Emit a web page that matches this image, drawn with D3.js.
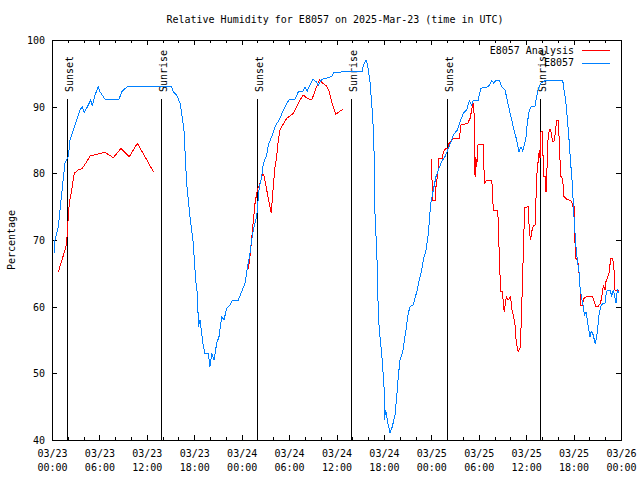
<!DOCTYPE html>
<html>
<head>
<meta charset="utf-8">
<script src="https://cdn.jsdelivr.net/npm/d3@7"></script>
<style>
  html, body { margin: 0; padding: 0; background: #fff; }
  svg { display: block; }
  text { font-family: "DejaVu Sans Mono", "Liberation Mono", monospace; font-size: 10px; fill: #000; }
</style>
</head>
<body>
<svg id="chart" width="640" height="480"></svg>
<script>
// ---- data (hours since 2025-03-23 00:00 UTC) ----
const chartTitle = "Relative Humidity for E8057 on 2025-Mar-23 (time in UTC)";
const yLabel = "Percentage";
const seriesNames = ["E8057 Analysis", "E8057"];

const xTickHours = [0, 6, 12, 18, 24, 30, 36, 42, 48, 54, 60, 66, 72];
const xTickDates = ["03/23","03/23","03/23","03/23","03/24","03/24","03/24","03/24","03/25","03/25","03/25","03/25","03/26"];
const xTickTimes = ["00:00","06:00","12:00","18:00","00:00","06:00","12:00","18:00","00:00","06:00","12:00","18:00","00:00"];
const yTicks = [40, 50, 60, 70, 80, 90, 100];

const sunHours = [1.94, 13.83, 25.98, 37.87, 50.02, 61.79];
const sunLabels = ["Sunset", "Sunrise", "Sunset", "Sunrise", "Sunset", "Sunrise"];

const obsHours = [0.25,0.38,0.80,1.23,1.64,2.06,2.28,2.70,3.13,3.54,3.83,4.09,4.59,4.90,5.10,5.44,5.86,6.07,6.71,7.55,8.48,8.82,9.53,11.77,15.15,15.35,15.78,16.20,16.41,16.70,17.04,17.46,17.88,18.01,18.22,18.44,18.51,18.73,18.94,19.15,19.36,19.78,19.99,20.21,20.50,20.84,21.13,21.47,21.76,22.11,22.52,22.87,23.57,24.00,24.42,24.71,25.05,25.27,25.47,25.90,26.23,26.54,26.74,27.17,27.37,27.80,28.22,28.85,29.27,29.61,30.03,30.75,31.17,31.72,32.01,32.30,32.99,33.41,33.70,34.13,35.39,35.68,37.07,39.23,39.39,39.73,39.94,40.24,40.58,40.74,40.87,41.08,41.19,41.29,41.50,41.72,41.84,42.01,42.05,42.23,42.35,42.55,42.77,43.06,43.40,43.62,43.82,44.03,44.38,44.54,44.79,45.08,45.30,45.72,45.93,46.22,46.48,46.78,46.98,47.33,47.62,47.92,48.25,48.59,48.88,49.31,49.73,50.15,50.58,50.78,51.29,51.63,52.05,52.48,52.81,53.11,53.31,53.94,54.25,55.21,55.64,55.93,56.18,56.60,56.91,57.32,57.61,57.87,58.17,58.46,58.80,59.09,59.35,59.56,59.76,59.98,60.14,60.40,60.70,61.12,61.33,61.53,61.84,62.51,64.62,64.79,65.00,65.26,65.46,65.63,65.84,65.96,66.05,66.18,66.30,66.47,66.68,66.81,67.03,67.23,67.36,67.57,67.74,67.92,68.08,68.21,68.42,68.58,68.75,68.93,69.05,69.22,69.43,69.68,69.98,70.10,70.27,70.61,70.83,71.03,71.24,71.37,71.53,71.75];
const obsValues = [68,70,72,77,81.5,82.5,85,86.5,88,89.5,90,89.1,90.25,91,90.1,91.75,93,92.25,91.1,91.1,91.1,92.25,93,93,93,92.25,91.75,90.5,89,86.5,78.5,73.5,69.5,67,63.5,61.5,57,58,56,54,53,53,51,53,52,54.5,55.5,58.5,58,59.75,60.25,61,61,62.25,63.5,65.75,68,70,71.5,73.5,78,79.5,81.5,82.75,84.25,85.5,87,88.25,89.5,90.25,91.1,91.1,92.25,92.25,92.9,92.35,94.1,93.75,93.25,94.1,94.5,95.1,95.25,95.25,96.1,97,96.25,93.75,88.5,84,74,68.5,65,58.5,55.5,53,51,48.25,43,44.5,43.5,42.25,41.1,42,43.75,46.5,49.5,52,53.25,54.5,56.5,59,60,60.25,61.25,62.5,64,65.5,67,68.5,71,75.5,77.5,79.5,80.5,81.75,82.5,83.75,85,85.75,86.5,87.75,89,89.5,90.9,90.25,91,91,92.75,93,93.9,93.5,94,94,93,92.5,91,89.5,88,86.5,85,83.25,84,83.4,84.2,85.5,87.5,89.5,90.1,90.1,91.5,92.75,93.5,94,94,92.5,91,87.5,84.5,81.5,78.5,75.5,73.5,71,69,67,65.25,63,61.25,60,58.75,59.25,58,56.5,55.5,56.25,56,55.25,54.4,55.5,56.75,58.75,60,60.5,60.5,61.75,62.5,62.5,61.6,62.5,61.25,60.5,62.5,62.1];

const anaHours = [0.80,1.64,1.86,1.94,2.19,2.49,2.82,3.33,3.83,4.39,4.81,5.86,6.71,7.76,8.73,9.78,10.79,11.77,12.82,
  18.0,
  24.84,25.14,25.40,25.69,25.98,26.32,26.66,26.86,27.17,27.50,27.75,27.93,28.22,28.43,28.64,28.85,29.19,29.70,30.53,30.96,31.38,31.80,32.30,32.86,33.41,33.83,34.26,34.76,35.09,35.39,35.90,36.36,36.79,
  42.0,
  48.05,48.12,48.55,48.59,48.80,48.97,49.39,49.52,49.86,50.15,50.24,50.78,51.54,51.76,52.60,52.90,53.11,53.23,53.36,53.44,53.53,53.62,53.74,53.87,53.91,54.58,54.71,55.01,55.64,55.72,55.84,56.35,56.48,56.60,56.78,57.03,57.11,57.23,57.42,57.54,57.70,57.87,58.04,58.17,58.37,58.59,58.71,58.88,59.00,59.22,59.31,59.43,59.56,59.72,59.85,60.27,60.40,60.57,60.70,60.90,61.12,61.24,61.33,61.53,61.66,61.75,61.88,62.09,62.17,62.42,62.45,62.60,62.67,62.93,63.10,63.23,63.36,63.52,63.65,63.86,64.06,64.15,64.28,64.41,64.57,64.70,64.79,65.13,65.46,65.76,65.89,66.09,66.18,66.30,66.52,66.64,66.81,66.90,67.10,67.32,67.66,68.42,68.80,69.13,69.34,69.55,69.77,69.98,70.10,70.27,70.48,70.70,70.95,71.12,71.24,71.75];
const anaValues = [65.2,68.5,69.5,71.5,75.5,77.5,80,80.5,80.75,81.75,82.6,82.9,83.15,82.35,83.75,82.5,84.5,82.5,80.25,
  null,
  65.6,68.5,72,75.5,77.5,78.5,79.9,79.5,77.5,75.5,74,77,81,82.5,85,86.5,87.25,88.25,89,90,91,91.75,91.25,91,92.75,94,93.5,93.1,92.25,90.75,88.85,89.25,89.6,
  null,
  82.15,76,76,78,79.75,82.25,82.25,83.25,83.75,83.75,84.5,85.25,85.25,87.25,87.5,88.25,89.5,90.5,90.5,87.5,79.5,82.5,81,83.5,84.4,84.4,78.5,79,79,77.75,74.5,74.5,73,67.25,62.25,62.25,60,59.25,61,61.4,61,61.2,61.5,59.75,58.75,57.25,55.25,53.75,53.25,53.75,55.5,59.5,65,71.5,74.9,75,71.25,70,71.25,72.1,72.25,76,79.5,82,83.5,82.25,86.25,86.25,79.5,79.5,77.25,77.25,84,86.6,86.6,85.5,84.75,84.75,85.75,88,88,85.75,82,79.5,79.25,78,76.5,76.1,76,75.75,75.1,75.1,69.5,67.25,67,65.75,63,60.25,60.25,61.25,61.5,61.5,60.1,60.1,60.4,61.25,63.25,62.5,63.75,64.25,65,67.25,67.25,65.5,62.5,62.5];

const colors = ["#ff0000", "#0080ff"];

// ---- drawing ----
const svg = d3.select("#chart");
const L = 52, R = 621, T = 40, B = 440;
const x = d3.scaleLinear().domain([0, 72]).range([L, R]);
const y = d3.scaleLinear().domain([40, 100]).range([B, T]);

svg.append("text").attr("x", 335).attr("y", 23).attr("text-anchor", "middle").text(chartTitle);

svg.append("text")
  .attr("transform", `translate(15,${(T + B) / 2}) rotate(-90)`)
  .attr("text-anchor", "middle").text(yLabel);

// axes with inward ticks
const minorX = d3.range(0, 73, 2);
const g = svg.append("g").attr("shape-rendering", "crispEdges");

function tickAxis(axis, transform) {
  const a = g.append("g").attr("transform", transform).call(axis);
  a.select(".domain").remove();
  a.selectAll("line").attr("stroke", "#000");
  return a;
}
// minor x ticks
tickAxis(d3.axisBottom(x).tickValues(minorX).tickSize(-3).tickFormat(""), `translate(0,${B})`);
tickAxis(d3.axisTop(x).tickValues(minorX).tickSize(-3).tickFormat(""), `translate(0,${T})`);
// major x ticks
const xb = tickAxis(d3.axisBottom(x).tickValues(xTickHours).tickSize(-5).tickFormat(""), `translate(0,${B})`);
tickAxis(d3.axisTop(x).tickValues(xTickHours).tickSize(-5).tickFormat(""), `translate(0,${T})`);
xb.selectAll(".tick").each(function (d, i) {
  const t = d3.select(this).append("text").attr("text-anchor", "middle").attr("fill", "#000");
  t.append("tspan").attr("x", 0).attr("y", 17).text(xTickDates[i]);
  t.append("tspan").attr("x", 0).attr("y", 31).text(xTickTimes[i]);
});
// y ticks
const yl = tickAxis(d3.axisLeft(y).tickValues(yTicks).tickSize(-5).tickPadding(3).tickFormat(d3.format("d")), `translate(${L},0)`);
yl.selectAll("text").attr("x", -7).attr("dy", "0.35em").attr("fill", "#000");
tickAxis(d3.axisRight(y).tickValues(yTicks).tickSize(-5).tickFormat(""), `translate(${R},0)`);

// sunrise / sunset markers
const sun = svg.append("g");
sun.selectAll("line").data(sunHours).join("line")
  .attr("x1", d => Math.round(x(d)) + 0.5).attr("x2", d => Math.round(x(d)) + 0.5)
  .attr("y1", 99).attr("y2", B)
  .attr("stroke", "#000").attr("stroke-width", 1).attr("shape-rendering", "crispEdges");
sun.selectAll("text").data(sunHours).join("text")
  .attr("transform", d => `translate(${Math.round(x(d)) + 6},92) rotate(-90)`)
  .attr("text-anchor", "start")
  .text((d, i) => sunLabels[i]);

// series
const anaData = anaHours.map((h, i) => ({ h, v: anaValues[i] }));
const obsData = obsHours.map((h, i) => ({ h, v: obsValues[i] }));
const line = d3.line().defined(d => d.v !== null).x(d => x(d.h)).y(d => y(d.v));

svg.append("path").datum(anaData).attr("d", line)
  .attr("fill", "none").attr("stroke", colors[0]).attr("stroke-width", 1).attr("shape-rendering", "crispEdges");
svg.append("path").datum(obsData).attr("d", line)
  .attr("fill", "none").attr("stroke", colors[1]).attr("stroke-width", 1).attr("shape-rendering", "crispEdges");

// frame
g.append("rect").attr("x", L + 0.5).attr("y", T + 0.5).attr("width", R - L).attr("height", B - T)
  .attr("fill", "none").attr("stroke", "#000");

// legend
const leg = svg.append("g");
seriesNames.forEach((name, i) => {
  const ly = 50 + i * 12.5;
  leg.append("text").attr("x", 574).attr("y", ly).attr("dy", "0.35em").attr("text-anchor", "end").text(name);
  leg.append("line").attr("x1", 582).attr("x2", 610).attr("y1", Math.round(ly) + 0.5).attr("y2", Math.round(ly) + 0.5)
    .attr("stroke", colors[i]).attr("stroke-width", 1).attr("shape-rendering", "crispEdges");
});
</script>
</body>
</html>
